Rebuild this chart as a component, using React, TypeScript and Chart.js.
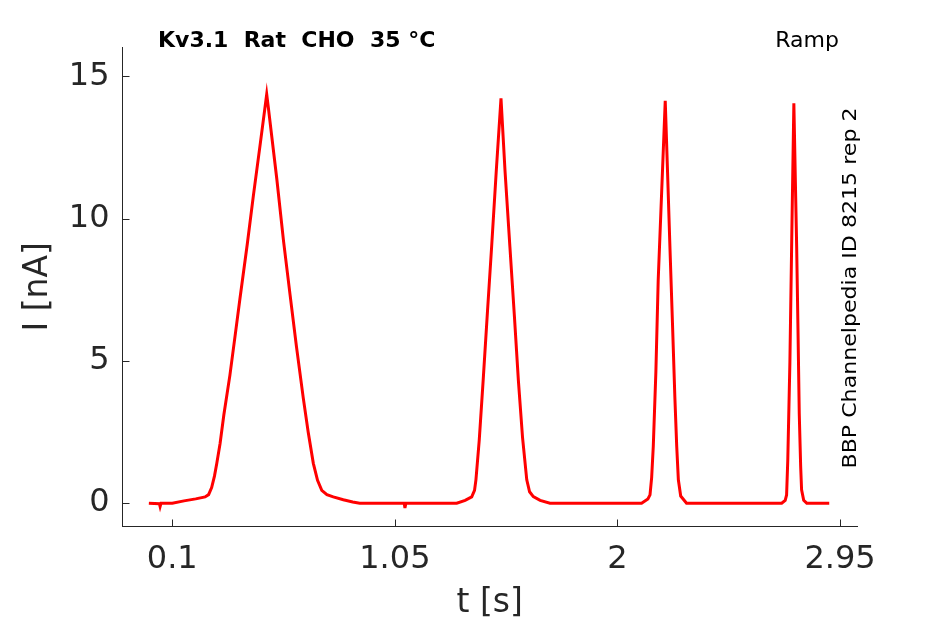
import { useEffect, useRef } from "react";
import { Chart, registerables } from "chart.js";

Chart.register(...registerables);

// Kv3.1 ramp response (time in s, current in nA)
const timeS = [
  0.0, 0.045, 0.048, 0.052, 0.1, 0.15, 0.2, 0.24, 0.255, 0.268, 0.28, 0.29, 0.304, 0.32, 0.346, 0.37,
  0.389, 0.42, 0.446, 0.475, 0.503, 0.51, 0.546, 0.575, 0.603, 0.63, 0.659, 0.68, 0.702, 0.72, 0.738,
  0.76, 0.787, 0.83, 0.87, 0.9, 1.0, 1.09, 1.093, 1.097, 1.2, 1.314, 1.35, 1.378, 1.39, 1.396, 1.41,
  1.427, 1.445, 1.463, 1.483, 1.503, 1.52, 1.541, 1.56, 1.577, 1.595, 1.613, 1.625, 1.641, 1.67, 1.712,
  1.9, 2.103, 2.13, 2.139, 2.146, 2.153, 2.164, 2.174, 2.19, 2.204, 2.214, 2.224, 2.235, 2.245, 2.253,
  2.26, 2.27, 2.295, 2.5, 2.701, 2.716, 2.722, 2.727, 2.736, 2.744, 2.753, 2.759, 2.765, 2.771, 2.776,
  2.782, 2.786, 2.795, 2.808, 2.904,
];
const currentNA = [
  0.0, -0.02, -0.12, 0.0, 0.0, 0.08, 0.15, 0.22, 0.3, 0.55, 0.95, 1.4, 2.1, 3.1, 4.5, 6.0,
  7.2, 9.1, 10.8, 12.6, 14.37, 13.9, 11.4, 9.2, 7.3, 5.5, 3.7, 2.5, 1.4, 0.8, 0.45,
  0.3, 0.22, 0.12, 0.04, 0.0, 0.0, 0.0, -0.17, 0.0, 0.0, 0.0, 0.1, 0.22, 0.45, 0.82, 2.2,
  4.33, 6.7, 9.01, 11.7, 14.23, 11.7, 9.01, 6.6, 4.33, 2.3, 0.82, 0.4, 0.23, 0.1, 0.0,
  0.0, 0.0, 0.15, 0.29, 0.9, 2.0, 4.6, 7.84, 11.2, 14.14, 11.6, 9.01, 6.3, 3.74, 2.0,
  0.82, 0.25, 0.0, 0.0, 0.0, 0.1, 0.29, 1.5, 4.92, 9.3, 14.05, 11.5, 9.0, 5.9, 3.16,
  1.3, 0.47, 0.1, 0.0, 0.0,
];

const xTicks = [0.1, 1.05, 2, 2.95];
const yTicks = [0, 5, 10, 15];
const titleText = "Kv3.1  Rat  CHO  35 °C";
const protocolText = "Ramp";
const sourceText = "BBP Channelpedia ID 8215 rep 2";
const xLabel = "t [s]";
const yLabel = "I [nA]";

const axisColor = "#262626";
const fontFamily = "'DejaVu Sans', sans-serif";

// matlab-style inward ticks and the loose text labels
const decorPlugin = {
  id: "decor",
  afterDraw(chart: any) {
    const { ctx, chartArea, scales } = chart;
    ctx.save();
    ctx.strokeStyle = axisColor;
    ctx.lineWidth = 1;
    xTicks.forEach((v) => {
      const x = Math.round(scales.x.getPixelForValue(v)) + 0.5;
      ctx.beginPath();
      ctx.moveTo(x, chartArea.bottom);
      ctx.lineTo(x, chartArea.bottom - 7);
      ctx.stroke();
    });
    yTicks.forEach((v) => {
      const y = Math.round(scales.y.getPixelForValue(v)) + 0.5;
      ctx.beginPath();
      ctx.moveTo(chartArea.left, y);
      ctx.lineTo(chartArea.left + 7, y);
      ctx.stroke();
    });

    ctx.fillStyle = "#000";
    ctx.textBaseline = "alphabetic";
    ctx.font = `bold 22px ${fontFamily}`;
    ctx.textAlign = "left";
    ctx.fillText(titleText, 158, 47);

    ctx.font = `22px ${fontFamily}`;
    ctx.textAlign = "right";
    ctx.fillText(protocolText, 839, 46.5);

    ctx.font = `19px ${fontFamily}`;
    ctx.textAlign = "left";
    const w = ctx.measureText(sourceText).width;
    ctx.translate(856, 468.5);
    ctx.rotate(-Math.PI / 2);
    ctx.scale(361 / w, 1);
    ctx.fillText(sourceText, 0, 0);
    ctx.restore();
  },
};

const App = () => {
  const chartRef = useRef<HTMLCanvasElement>(null);

  useEffect(() => {
    document.body.style.margin = "0";
    if (!chartRef.current) return;

    const points = timeS.map((t, i) => ({ x: t, y: currentNA[i] }));

    const chartInstance = new Chart(chartRef.current, {
      type: "line",
      data: {
        datasets: [
          {
            data: points,
            borderColor: "#ff0000",
            borderWidth: 3,
            pointRadius: 0,
            tension: 0,
            fill: false,
          },
        ],
      },
      options: {
        responsive: false,
        animation: false,
        layout: { padding: { top: 47, right: 88, left: 0, bottom: 0 } },
        plugins: {
          legend: { display: false },
          tooltip: { enabled: false },
        },
        scales: {
          x: {
            type: "linear",
            min: -0.1125,
            max: 3.0225,
            afterBuildTicks: (scale: any) => {
              scale.ticks = xTicks.map((v) => ({ value: v }));
            },
            afterFit: (scale: any) => {
              scale.height = 97.5;
            },
            grid: { display: true, drawOnChartArea: false, drawTicks: false },
            border: { display: true, color: axisColor, width: 1 },
            ticks: {
              color: axisColor,
              padding: 14,
              maxRotation: 0,
              autoSkip: false,
              font: { family: fontFamily, size: 32 },
              callback: (v: any) => String(v),
            },
            title: {
              display: true,
              text: xLabel,
              color: axisColor,
              font: { family: fontFamily, size: 33 },
              padding: { top: 0, bottom: 1 },
            },
          },
          y: {
            type: "linear",
            min: -0.82,
            max: 16.03,
            afterBuildTicks: (scale: any) => {
              scale.ticks = yTicks.map((v) => ({ value: v }));
            },
            afterFit: (scale: any) => {
              scale.width = 122.5;
            },
            grid: { display: true, drawOnChartArea: false, drawTicks: false },
            border: { display: true, color: axisColor, width: 1 },
            ticks: {
              color: axisColor,
              padding: 13,
              autoSkip: false,
              font: { family: fontFamily, size: 32 },
              callback: (v: any) => String(v),
            },
            title: {
              display: true,
              text: yLabel,
              color: axisColor,
              font: { family: fontFamily, size: 33 },
              padding: { top: 19, bottom: 0 },
            },
          },
        },
      },
      plugins: [decorPlugin],
    });

    return () => {
      chartInstance.destroy();
    };
  }, []);

  return (
    <div style={{ position: "relative", width: "945px", height: "624px" }}>
      <canvas ref={chartRef} width={945} height={624}></canvas>
    </div>
  );
};

export default App;
